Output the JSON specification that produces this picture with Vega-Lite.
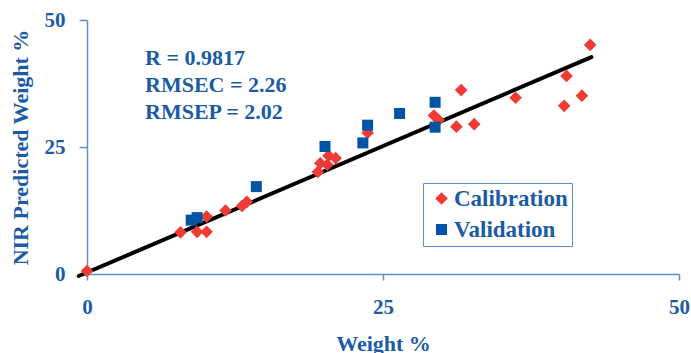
{
  "$schema": "https://vega.github.io/schema/vega-lite/v6.json",
  "width": 592,
  "height": 254,
  "autosize": {"type": "none"},
  "padding": {"left": 87, "top": 20, "right": 12, "bottom": 79},
  "background": "white",
  "config": {
    "view": {"stroke": null},
    "font": "Liberation Serif",
    "axis": {
      "grid": false,
      "domainColor": "#5B8FD0",
      "domainWidth": 1.5,
      "tickColor": "#5B8FD0",
      "tickWidth": 1.5,
      "labelFont": "Liberation Serif",
      "labelFontWeight": "bold",
      "labelFontSize": 21,
      "labelColor": "#1A5BA6",
      "titleFont": "Liberation Serif",
      "titleFontWeight": "bold",
      "titleFontSize": 22,
      "titleColor": "#1A5BA6"
    },
    "legend": {
      "labelFont": "Liberation Serif",
      "labelFontWeight": "bold",
      "labelFontSize": 23,
      "labelColor": "#1A5BA6",
      "labelLimit": 300
    }
  },
  "datasets": {
    "samples": [
      {"series": "Calibration", "weight": 0.0, "predicted": 0.6},
      {"series": "Calibration", "weight": 7.9, "predicted": 8.2},
      {"series": "Calibration", "weight": 9.3, "predicted": 8.3},
      {"series": "Calibration", "weight": 10.1, "predicted": 8.3},
      {"series": "Calibration", "weight": 10.1, "predicted": 11.3},
      {"series": "Calibration", "weight": 11.7, "predicted": 12.5},
      {"series": "Calibration", "weight": 13.1, "predicted": 13.4},
      {"series": "Calibration", "weight": 13.5, "predicted": 14.2},
      {"series": "Calibration", "weight": 19.5, "predicted": 20.1},
      {"series": "Calibration", "weight": 19.7, "predicted": 21.8},
      {"series": "Calibration", "weight": 20.3, "predicted": 21.5},
      {"series": "Calibration", "weight": 20.4, "predicted": 23.3},
      {"series": "Calibration", "weight": 21.0, "predicted": 22.8},
      {"series": "Calibration", "weight": 23.7, "predicted": 27.8},
      {"series": "Calibration", "weight": 29.3, "predicted": 31.2},
      {"series": "Calibration", "weight": 29.7, "predicted": 30.3},
      {"series": "Calibration", "weight": 31.2, "predicted": 29.0},
      {"series": "Calibration", "weight": 31.6, "predicted": 36.2},
      {"series": "Calibration", "weight": 32.7, "predicted": 29.5},
      {"series": "Calibration", "weight": 36.2, "predicted": 34.7},
      {"series": "Calibration", "weight": 40.3, "predicted": 33.1},
      {"series": "Calibration", "weight": 40.5, "predicted": 39.0},
      {"series": "Calibration", "weight": 41.8, "predicted": 35.1},
      {"series": "Calibration", "weight": 42.5, "predicted": 45.1},
      {"series": "Validation", "weight": 8.8, "predicted": 10.6},
      {"series": "Validation", "weight": 9.3, "predicted": 11.1},
      {"series": "Validation", "weight": 14.3, "predicted": 17.2},
      {"series": "Validation", "weight": 20.1, "predicted": 25.1},
      {"series": "Validation", "weight": 23.3, "predicted": 25.8},
      {"series": "Validation", "weight": 23.7, "predicted": 29.3},
      {"series": "Validation", "weight": 26.4, "predicted": 31.6},
      {"series": "Validation", "weight": 29.4, "predicted": 33.8},
      {"series": "Validation", "weight": 29.4, "predicted": 28.9}
    ],
    "trend": [
      {"weight": -0.7, "predicted": -0.4},
      {"weight": 42.6, "predicted": 42.7}
    ],
    "stats": [
      {"lines": ["R = 0.9817", "RMSEC = 2.26", "RMSEP = 2.02"]}
    ]
  },
  "layer": [
    {
      "data": {"name": "trend"},
      "mark": {"type": "line", "color": "black", "strokeWidth": 4, "strokeCap": "round"},
      "encoding": {
        "x": {
          "field": "weight",
          "type": "quantitative",
          "scale": {"domain": [0, 50], "nice": false, "zero": false},
          "axis": {
            "title": "Weight %",
            "values": [0, 25, 50],
            "tickSize": 6,
            "labelPadding": 27,
            "labelBaseline": "middle",
            "labelFlush": false,
            "titleX": 296,
            "titleY": 76,
            "titleBaseline": "alphabetic"
          }
        },
        "y": {
          "field": "predicted",
          "type": "quantitative",
          "scale": {"domain": [0, 50], "nice": false, "zero": false},
          "axis": {
            "title": "NIR Predicted Weight %",
            "values": [0, 25, 50],
            "tickSize": 8,
            "labelPadding": 14,
            "labelFlush": false,
            "titleAngle": -90,
            "titleX": -60,
            "titleY": 127,
            "titleAlign": "center",
            "titleBaseline": "alphabetic"
          }
        }
      }
    },
    {
      "data": {"name": "stats"},
      "mark": {
        "type": "text",
        "align": "left",
        "baseline": "alphabetic",
        "font": "Liberation Serif",
        "fontWeight": "bold",
        "fontSize": 22,
        "lineHeight": 27,
        "color": "#1A5BA6"
      },
      "encoding": {
        "x": {"datum": 4.9, "type": "quantitative"},
        "y": {"datum": 41.1, "type": "quantitative"},
        "text": {"field": "lines"}
      }
    },
    {
      "data": {"name": "samples"},
      "mark": {"type": "point", "filled": true, "opacity": 1},
      "encoding": {
        "x": {"field": "weight", "type": "quantitative"},
        "y": {"field": "predicted", "type": "quantitative"},
        "color": {
          "field": "series",
          "type": "nominal",
          "scale": {"domain": ["Calibration", "Validation"], "range": ["#EE3B33", "#0054A6"]},
          "legend": {
            "title": null,
            "orient": "none",
            "legendX": 336,
            "legendY": 163,
            "strokeColor": "#5B8FD0",
            "padding": 4,
            "rowPadding": 7,
            "symbolOffset": 3,
            "labelOffset": 1,
            "symbolSize": 70,
            "labelFont": "Liberation Serif",
            "labelFontWeight": "bold",
            "labelFontSize": 23,
            "labelColor": "#1A5BA6",
            "labelLimit": 300
          }
        },
        "shape": {
          "field": "series",
          "type": "nominal",
          "scale": {"domain": ["Calibration", "Validation"], "range": ["diamond", "square"]},
          "legend": {
            "title": null,
            "orient": "none",
            "legendX": 336,
            "legendY": 163,
            "strokeColor": "#5B8FD0",
            "padding": 4,
            "rowPadding": 7,
            "symbolOffset": 3,
            "labelOffset": 1,
            "symbolSize": 70,
            "labelFont": "Liberation Serif",
            "labelFontWeight": "bold",
            "labelFontSize": 23,
            "labelColor": "#1A5BA6",
            "labelLimit": 300
          }
        },
        "size": {
          "field": "series",
          "type": "nominal",
          "scale": {"domain": ["Calibration", "Validation"], "range": [160, 121]},
          "legend": null
        },
        "order": {"field": "series", "sort": "ascending"}
      }
    }
  ]
}
